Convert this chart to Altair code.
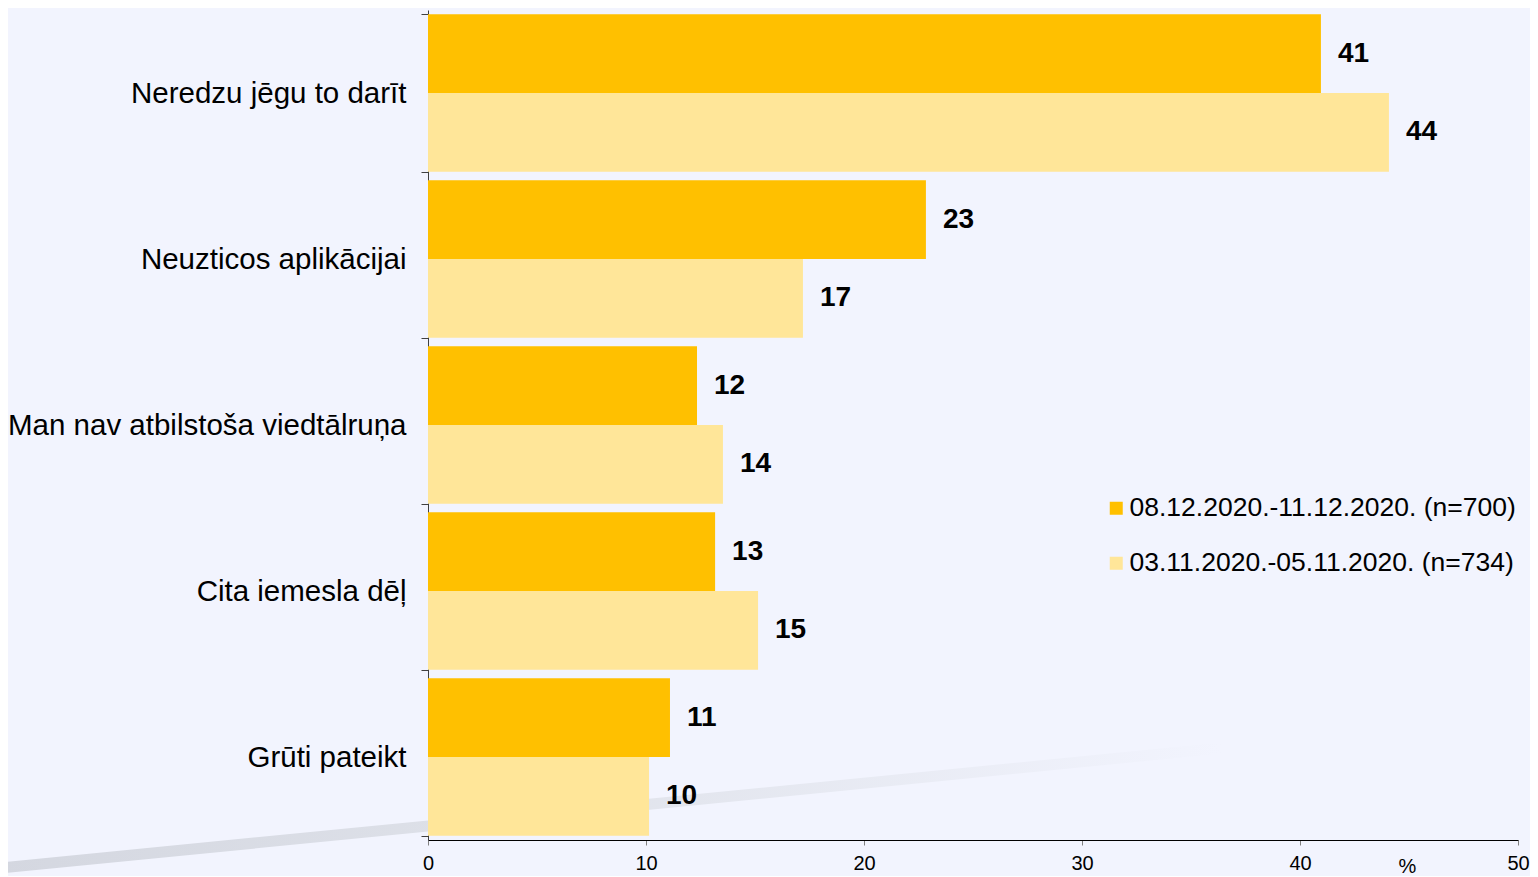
import altair as alt
import pandas as pd

categories = [
    "Neredzu jēgu to darīt",
    "Neuzticos aplikācijai",
    "Man nav atbilstoša viedtālruņa",
    "Cita iemesla dēļ",
    "Grūti pateikt",
]
series_names = ["08.12.2020.-11.12.2020. (n=700)", "03.11.2020.-05.11.2020. (n=734)"]
dec_values = [40.96, 22.84, 12.34, 13.17, 11.1]
nov_values = [44.08, 17.2, 13.53, 15.14, 10.14]
series_colors = ["#FFC000", "#FFE699"]
x_ticks = [0, 10, 20, 30, 40, 50]

rows = []
for c, d, n in zip(categories, dec_values, nov_values):
    rows.append({"cat": c, "series": series_names[0], "value": d})
    rows.append({"cat": c, "series": series_names[1], "value": n})
df = pd.DataFrame(rows)

BG = "#F2F4FE"

swoosh = alt.Chart(pd.DataFrame({"k": [0]})).mark_rule(
    strokeWidth=11,
    stroke={
        "gradient": "linear",
        "x1": 0, "y1": 0, "x2": 1, "y2": 0,
        "stops": [
            {"offset": 0, "color": "#D4D7E0"},
            {"offset": 0.45, "color": "#DFE2EA"},
            {"offset": 1, "color": BG},
        ],
    },
).encode(
    x=alt.value(-428), y=alt.value(858), x2=alt.value(794), y2=alt.value(738)
)

y_enc = alt.Y(
    "cat:N",
    sort=categories,
    title=None,
    scale=alt.Scale(paddingInner=0.05, paddingOuter=0.025),
    axis=alt.Axis(
        tickBand="extent",
        labelFontSize=29.5,
        labelFont="Liberation Sans",
        labelColor="#000000",
        labelPadding=15,
        tickSize=7,
        tickColor="#404040",
        domainColor="#404040",
        labelLimit=500,
    ),
)

x_enc = alt.X(
    "value:Q",
    scale=alt.Scale(domain=[0, 50], nice=False),
    title="%",
    axis=alt.Axis(
        values=x_ticks,
        grid=False,
        labelFlush=False,
        labelFontSize=20,
        labelFont="Liberation Sans",
        labelColor="#000000",
        labelPadding=8,
        tickSize=5,
        tickColor="#808080",
        domainColor="#000000",
        titleFontSize=20,
        titleFontWeight="normal",
        titleFont="Liberation Sans",
        titleX=970,
        titleY=16,
        titleAnchor="start",
        titleBaseline="top",
    ),
)

bars = alt.Chart(df).mark_bar().encode(
    x=x_enc,
    y=y_enc,
    yOffset=alt.YOffset("series:N", sort=series_names),
    color=alt.Color(
        "series:N",
        sort=series_names,
        scale=alt.Scale(domain=series_names, range=series_colors),
        legend=alt.Legend(
            title=None,
            orient="none",
            legendX=675,
            legendY=485,
            padding=0,
            symbolType="square",
            symbolSize=169,
            symbolStrokeWidth=0,
            labelFontSize=26.5,
            labelFont="Liberation Sans",
            labelColor="#000000",
            labelOffset=0,
            rowPadding=28,
            labelLimit=600,
        ),
    ),
)

labels = alt.Chart(df).mark_text(
    align="left", baseline="middle", dx=17, fontSize=28, fontWeight="bold",
    font="Liberation Sans", color="#000000",
).encode(
    x="value:Q",
    y=alt.Y("cat:N", sort=categories),
    yOffset=alt.YOffset("series:N", sort=series_names),
    text=alt.Text("value:Q", format=".0f"),
)

chart = alt.layer(swoosh, bars, labels).properties(
    width=1090,
    height=830,
    background=BG,
    padding={"left": 420, "top": 2, "right": 12, "bottom": 36},
    autosize=alt.AutoSizeParams(type="none"),
).configure_view(stroke=None, fill=BG)

chart.save("out.html", embed_options={"renderer": "svg", "actions": False})
